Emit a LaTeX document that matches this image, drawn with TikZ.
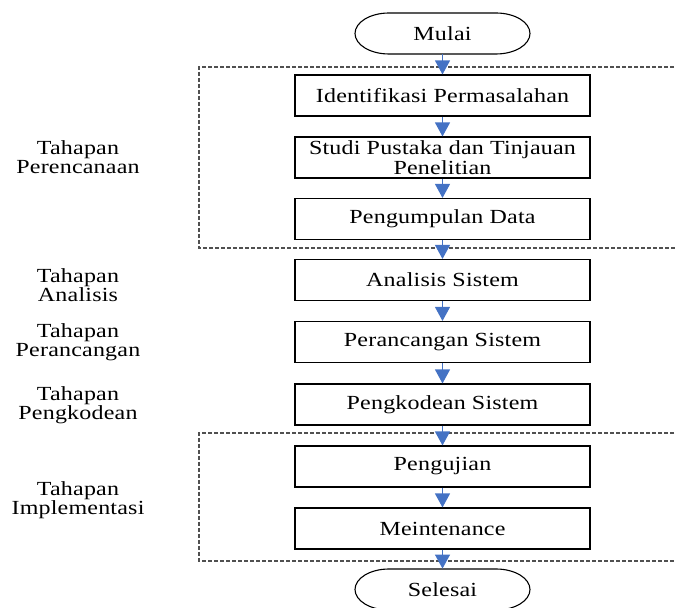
\documentclass[tikz,border=0pt]{standalone}
\usepackage{fontspec}
\setmainfont[FakeStretch=1.2,LetterSpace=1]{Liberation Serif}
\usepackage{tikz}
\usetikzlibrary{arrows.meta,positioning}
\definecolor{flowblue}{RGB}{68,114,196}
\definecolor{framegray}{RGB}{80,80,80}

% terminator outline round a named node
\newcommand{\terminator}[1]{%
  \draw[line width=0.55pt] ([xshift=-26.75pt,yshift=10.25pt]#1.center)
    arc[start angle=90, end angle=270, x radius=17pt, y radius=10.25pt]
    -- ++(53.5pt,0)
    arc[start angle=-90, end angle=90, x radius=17pt, y radius=10.25pt] -- cycle;}

\begin{document}
\begin{tikzpicture}[x=0.5pt, y=-0.5pt,
    stepbox/.style={rectangle, draw=black, line width=0.55pt, minimum width=147.5pt,
                    minimum height=20.5pt, inner sep=1pt, align=center,
                    font=\fontsize{10}{8.7}\selectfont},
    terminal/.style={rectangle, minimum width=87.5pt, minimum height=20.5pt,
                     inner sep=1pt, font=\fontsize{10}{8.7}\selectfont},
    phase/.style={align=center, inner sep=0pt, font=\fontsize{10}{9.5}\selectfont},
    flow/.style={draw=flowblue, line width=0.6pt, -{Triangle[length=7pt,width=7.5pt]}},
    frame/.style={draw=framegray, line width=0.55pt, dash pattern=on 2pt off 1pt}
]
\clip (0,0) rectangle (675,608);

% Start / end
\node[terminal] (mulai) at (442.5, 33.5) {Mulai};
\node[terminal] (selesai) at (442.5, 589.5) {Selesai};
\terminator{mulai}
\terminator{selesai}

% Steps
\node[stepbox] (ident) at (442.5, 95.5) {Identifikasi Permasalahan};
\node[stepbox] (studi) at (442.5, 157.5) {Studi Pustaka dan Tinjauan\\Penelitian};
\node[stepbox] (data) at (442.5, 219) {Pengumpulan Data};
\node[stepbox] (analisis) at (442.5, 280) {Analisis Sistem};
\node[stepbox] (rancang) at (442.5, 342) {Perancangan Sistem};
\node[stepbox] (kode) at (442.5, 404.5) {Pengkodean Sistem};
\node[stepbox] (uji) at (442.5, 466.5) {Pengujian};
\node[stepbox] (maint) at (442.5, 528.5) {Meintenance};

% Phase frames
\draw[frame] (680, 67) -- (199, 67) -- (199, 248) -- (680, 248);
\draw[frame] (680, 433) -- (199, 433) -- (199, 561) -- (680, 561);

% Phase labels
\node[phase] (lplan) at (78, 157) {Tahapan\\Perencanaan};
\node[phase] (lanal) at (78, 285) {Tahapan\\Analisis};
\node[phase] (ldesign) at (78, 342) {Tahapan\\Perancangan};
\node[phase] (lcode) at (78, 405) {Tahapan\\Pengkodean};
\node[phase] (limpl) at (78, 500) {Tahapan\\Implementasi};

% Connections
\draw[flow] (mulai) -- (ident);
\draw[flow] (ident) -- (studi);
\draw[flow] (studi) -- (data);
\draw[flow] (data) -- (analisis);
\draw[flow] (analisis) -- (rancang);
\draw[flow] (rancang) -- (kode);
\draw[flow] (kode) -- (uji);
\draw[flow] (uji) -- (maint);
\draw[flow] (maint) -- (selesai);

\end{tikzpicture}
\end{document}
